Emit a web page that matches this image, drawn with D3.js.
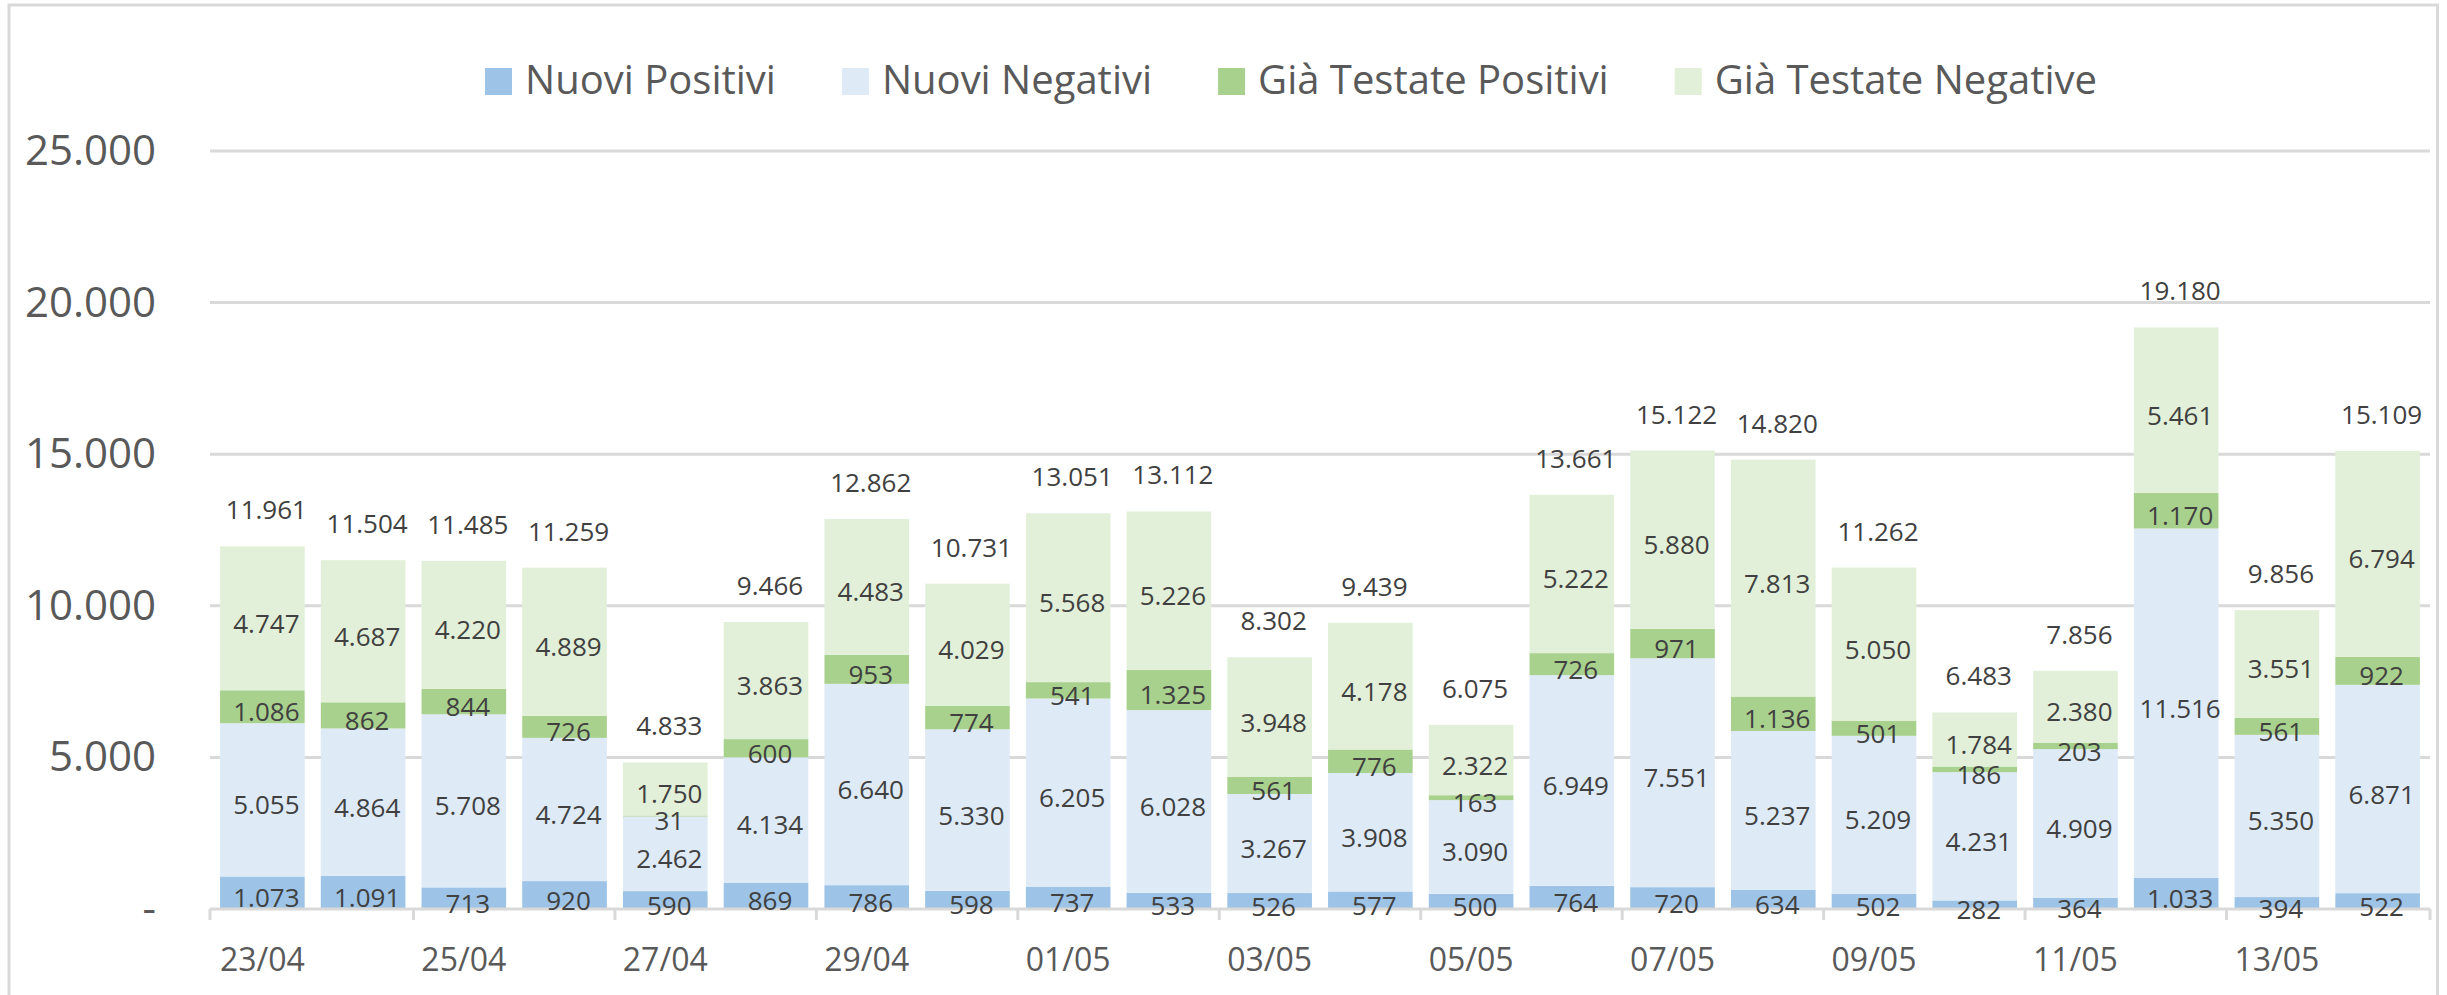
<!DOCTYPE html>
<html>
<head>
<meta charset="utf-8">
<script src="https://cdn.jsdelivr.net/npm/d3@7"></script>
<style>
  html, body { margin: 0; padding: 0; background: #ffffff; }
  svg { display: block; }
</style>
</head>
<body>
<script>
// ---------------- DATA ----------------
const dates = ["23/04","24/04","25/04","26/04","27/04","28/04","29/04","30/04",
  "01/05","02/05","03/05","04/05","05/05","06/05","07/05","08/05","09/05","10/05",
  "11/05","12/05","13/05","14/05"];
const nuoviPositivi      = [1073,1091,713,920,590,869,786,598,737,533,526,577,500,764,720,634,502,282,364,1033,394,522];
const nuoviNegativi      = [5055,4864,5708,4724,2462,4134,6640,5330,6205,6028,3267,3908,3090,6949,7551,5237,5209,4231,4909,11516,5350,6871];
const giaTestatePositivi = [1086,862,844,726,31,600,953,774,541,1325,561,776,163,726,971,1136,501,186,203,1170,561,922];
const giaTestateNegative = [4747,4687,4220,4889,1750,3863,4483,4029,5568,5226,3948,4178,2322,5222,5880,7813,5050,1784,2380,5461,3551,6794];
const totals             = [11961,11504,11485,11259,4833,9466,12862,10731,13051,13112,8302,9439,6075,13661,15122,14820,11262,6483,7856,19180,9856,15109];
const seriesNames = ["Nuovi Positivi","Nuovi Negativi","Già Testate Positivi","Già Testate Negative"];
const seriesColors = ["#9DC3E6","#DEEBF7","#A9D18E","#E2F0D9"];
const yTicks = [0,5000,10000,15000,20000,25000];

// ---------------- SETUP ----------------
const W = 2447, H = 995;
const fmt = d3.formatLocale({decimal: ",", thousands: ".", grouping: [3], currency: ["€", ""]}).format(",");

const svg = d3.select("body").append("svg")
  .attr("width", W).attr("height", H)
  .style("font-family", "'Open Sans', sans-serif");

svg.append("rect").attr("x", 0).attr("y", 0).attr("width", W).attr("height", H).attr("fill", "#ffffff");
svg.append("rect").attr("x", 9).attr("y", 5).attr("width", 2428.5).attr("height", 1200)
  .attr("fill", "none").attr("stroke", "#D9D9D9").attr("stroke-width", 3);

const plotL = 210, plotR = 2430;
const y = d3.scaleLinear().domain([0, 25000]).range([909, 151]);
const x = d3.scaleBand().domain(dates).range([plotL, plotR]).paddingInner(0.16).paddingOuter(0.1);
const bw = x.bandwidth();

// gridlines
svg.append("g").selectAll("line").data(yTicks.filter(t => t > 0)).join("line")
  .attr("x1", plotL).attr("x2", plotR)
  .attr("y1", d => y(d)).attr("y2", d => y(d))
  .attr("stroke", "#D9D9D9").attr("stroke-width", 3);

// y labels
svg.append("g").selectAll("text").data(yTicks).join("text")
  .attr("x", 156).attr("y", d => y(d) + 14)
  .attr("text-anchor", "end")
  .attr("font-size", 42).attr("fill", "#595959")
  .text(d => d === 0 ? "-" : fmt(d));

// stacked data
const rows = dates.map((d, i) => ({
  date: d,
  s0: nuoviPositivi[i], s1: nuoviNegativi[i], s2: giaTestatePositivi[i], s3: giaTestateNegative[i]
}));
const keys = ["s0","s1","s2","s3"];
const stacked = d3.stack().keys(keys)(rows);

const layers = svg.append("g").selectAll("g").data(stacked).join("g")
  .attr("fill", (d, i) => seriesColors[i]);
layers.selectAll("rect").data(d => d).join("rect")
  .attr("x", d => x(d.data.date))
  .attr("y", d => y(d[1]))
  .attr("width", bw)
  .attr("height", d => y(d[0]) - y(d[1]));

// axis line + ticks
svg.append("line").attr("x1", plotL).attr("x2", plotR).attr("y1", 909).attr("y2", 909)
  .attr("stroke", "#D9D9D9").attr("stroke-width", 3);
const tickPos = [];
for (let k = 0; k <= dates.length; k += 2) {
  if (k === 0) tickPos.push(plotL);
  else if (k === dates.length) tickPos.push(plotR);
  else tickPos.push((x(dates[k - 1]) + bw + x(dates[k])) / 2);
}
svg.append("g").selectAll("line").data(tickPos).join("line")
  .attr("x1", d => d).attr("x2", d => d).attr("y1", 909).attr("y2", 920)
  .attr("stroke", "#D9D9D9").attr("stroke-width", 3);

// x labels (every other date)
svg.append("g").selectAll("text").data(dates.filter((d, i) => i % 2 === 0)).join("text")
  .attr("x", d => x(d) + bw / 2)
  .attr("y", 971)
  .attr("text-anchor", "middle")
  .attr("font-size", 32).attr("fill", "#595959")
  .text(d => d);

// segment labels
const labG = svg.append("g");
stacked.forEach(layer => {
  labG.append("g").selectAll("text").data(layer).join("text")
    .attr("x", d => x(d.data.date) + bw / 2 + 4)
    .attr("y", d => (y(d[0]) + y(d[1])) / 2 + 14.5)
    .attr("text-anchor", "middle")
    .attr("font-size", 26).attr("fill", "#404040")
    .text(d => fmt(d[1] - d[0]));
});

// total labels
svg.append("g").selectAll("text").data(dates).join("text")
  .attr("x", d => x(d) + bw / 2 + 4)
  .attr("y", (d, i) => y(totals[i]) - 27)
  .attr("text-anchor", "middle")
  .attr("font-size", 26).attr("fill", "#404040")
  .text((d, i) => fmt(totals[i]));

// legend
const leg = svg.append("g");
const items = leg.selectAll("g").data(seriesNames).join("g");
items.append("rect").attr("width", 27).attr("height", 27).attr("y", 68)
  .attr("fill", (d, i) => seriesColors[i]);
items.append("text").attr("x", 40).attr("y", 94)
  .attr("font-size", 40).attr("fill", "#595959").text(d => d);
const widths = [];
items.each(function() { widths.push(40 + d3.select(this).select("text").node().getComputedTextLength()); });
const gap = 66;
const totalW = d3.sum(widths) + gap * (widths.length - 1);
let cx = 1291 - totalW / 2;
items.attr("transform", (d, i) => {
  const t = `translate(${cx},0)`;
  cx += widths[i] + gap;
  return t;
});
</script>
</body>
</html>
